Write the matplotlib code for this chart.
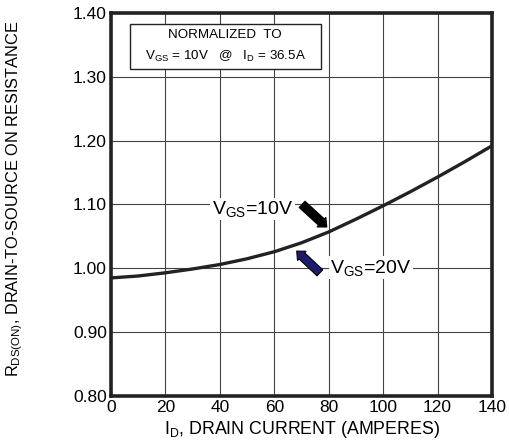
import matplotlib.pyplot as plt
from matplotlib.patches import Rectangle

plt.rcParams['font.family'] = ['Liberation Sans', 'DejaVu Sans']
plt.rcParams['mathtext.fontset'] = 'custom'
plt.rcParams['mathtext.rm'] = 'Liberation Sans'
plt.rcParams['mathtext.it'] = 'Liberation Sans'

# Data
drain_current = [0, 10, 20, 30, 40, 50, 60, 70, 80, 90, 100, 110, 120, 130, 140]
rds_norm = [0.985, 0.988, 0.993, 0.999, 1.006, 1.015, 1.026, 1.040, 1.057,
            1.077, 1.098, 1.120, 1.143, 1.167, 1.192]
x_ticks = [0, 20, 40, 60, 80, 100, 120, 140]
y_ticks = [0.80, 0.90, 1.00, 1.10, 1.20, 1.30, 1.40]

fig = plt.figure(figsize=(5.09, 4.46), dpi=100)
ax = fig.add_axes([111 / 509, 50 / 446, 381 / 509, 383 / 446])

ax.plot(drain_current, rds_norm, color='#222222', lw=2.4, zorder=3)

ax.set_xlim(0, 140)
ax.set_ylim(0.80, 1.40)
ax.set_xticks(x_ticks)
ax.set_yticks(y_ticks)
ax.set_yticklabels([f'{v:.2f}' for v in y_ticks])
ax.tick_params(length=0, labelsize=12.5, pad=3)
ax.grid(True, color='#444444', lw=0.8)
for s in ax.spines.values():
    s.set_linewidth(2.6)
    s.set_color('#222222')

ax.set_xlabel(r'I$_{\mathrm{D}}$, DRAIN CURRENT (AMPERES)', fontsize=12.8, labelpad=3)
ax.set_ylabel(r'R$_{\mathrm{DS(ON)}}$, DRAIN-TO-SOURCE ON RESISTANCE', fontsize=11.8)
ax.yaxis.set_label_coords(-0.225, 0.515)

# normalization box
box = Rectangle((0.05, 0.854), 0.50, 0.117, transform=ax.transAxes,
                facecolor='white', edgecolor='#222222', lw=1, zorder=4)
ax.add_patch(box)
ax.text(0.30, 0.943, 'NORMALIZED  TO', transform=ax.transAxes, ha='center',
        va='center', fontsize=9.6, zorder=5)
ax.text(0.30, 0.887, r'V$_{\mathrm{GS}}$ = 10V   @   I$_{\mathrm{D}}$ = 36.5A',
        transform=ax.transAxes, ha='center', va='center', fontsize=9.6, zorder=5)

# curve labels
ax.text(52, 1.093, r'V$_{\mathrm{GS}}$=10V', fontsize=14, ha='center', va='center',
        bbox=dict(facecolor='white', edgecolor='none', pad=1), zorder=4)
ax.text(95.5, 1.001, r'V$_{\mathrm{GS}}$=20V', fontsize=14, ha='center', va='center',
        bbox=dict(facecolor='white', edgecolor='none', pad=1), zorder=4)

ax.annotate('', xy=(80.0, 1.062), xytext=(69.5, 1.103),
            arrowprops=dict(arrowstyle='simple,head_length=0.5,head_width=0.9,tail_width=0.6',
                            facecolor='black', edgecolor='black'), zorder=5)
ax.annotate('', xy=(67.5, 1.030), xytext=(77.5, 0.990),
            arrowprops=dict(arrowstyle='simple,head_length=0.5,head_width=0.9,tail_width=0.6',
                            facecolor='#1c1c6c', edgecolor='black', lw=0.8), zorder=5)

fig.savefig('out.png', dpi=100)
